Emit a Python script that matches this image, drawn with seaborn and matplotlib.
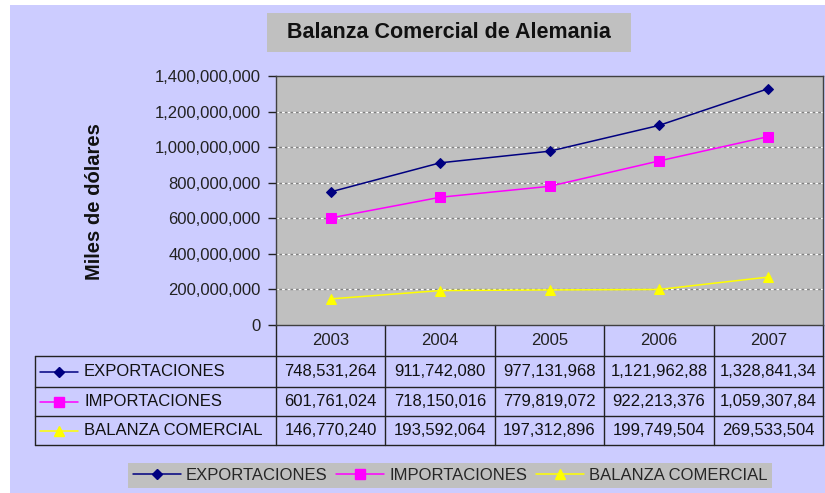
import matplotlib
matplotlib.use("Agg")
import matplotlib.pyplot as plt
import seaborn as sns
import pandas as pd
from matplotlib.lines import Line2D
from matplotlib.patches import Rectangle
from matplotlib.transforms import blended_transform_factory
from matplotlib.ticker import FuncFormatter, MultipleLocator

# ---- data ----
years = ["2003", "2004", "2005", "2006", "2007"]
exportaciones = [748531264, 911742080, 977131968, 1121962880, 1328841340]
importaciones = [601761024, 718150016, 779819072, 922213376, 1059307840]
balanza = [146770240, 193592064, 197312896, 199749504, 269533504]
series_names = ["EXPORTACIONES", "IMPORTACIONES", "BALANZA COMERCIAL"]
series_values = [exportaciones, importaciones, balanza]
colors = {"EXPORTACIONES": "#000080", "IMPORTACIONES": "#FF00FF", "BALANZA COMERCIAL": "#FFFF00"}
markers = {"EXPORTACIONES": "D", "IMPORTACIONES": "s", "BALANZA COMERCIAL": "^"}
msizes = {"EXPORTACIONES": 5, "IMPORTACIONES": 6.5, "BALANZA COMERCIAL": 7}

rows = []
for name, vals in zip(series_names, series_values):
    for i, v in enumerate(vals):
        rows.append({"pos": i, "anio": years[i], "valor": v, "serie": name})
df = pd.DataFrame(rows)

sns.set_theme(style="white")
plt.rcParams["font.family"] = ["Liberation Sans", "DejaVu Sans"]

W, H = 825, 493
fig = plt.figure(figsize=(W / 100, H / 100), dpi=100, facecolor="white")

def fx(x):
    return x / W

def fy(y):
    return 1 - y / H

# lavender background with thin white margin
fig.patches.append(Rectangle((fx(10), 0), 1 - fx(10), fy(5), transform=fig.transFigure,
                             facecolor="#CCCCFF", edgecolor="none", zorder=-10))

ax_left, ax_right, ax_top, ax_bot = 276, 823, 76, 325
ax = fig.add_axes([fx(ax_left), fy(ax_bot), fx(ax_right) - fx(ax_left), fy(ax_top) - fy(ax_bot)])
ax.set_facecolor("#C0C0C0")

sns.lineplot(data=df, x="pos", y="valor", hue="serie", style="serie",
             palette=colors, markers=markers, dashes=False, linewidth=1.1,
             ax=ax, legend=False)
for line, name in zip(ax.lines, series_names):
    line.set_markeredgecolor(colors[name])
    line.set_markerfacecolor(colors[name])
    line.set_markersize(msizes[name])

ax.set_xlim(-0.5, len(years) - 0.5)
ax.set_ylim(0, 1400000000)
ax.yaxis.set_major_locator(MultipleLocator(200000000))
ax.yaxis.set_major_formatter(FuncFormatter(lambda v, p: f"{int(v):,}"))
for t in ax.yaxis.get_major_locator().tick_values(0, 1400000000):
    if 0 < t < 1400000000:
        ax.axhline(t, color="#808080", lw=1, zorder=0.5)
        ax.axhline(t, color="white", lw=1, dashes=(2, 2), zorder=0.6)
ax.set_xticks([])
ax.set_xlabel("")
ax.set_ylabel("")
ax.tick_params(axis="y", which="major", left=True, length=6, width=1, color="#222222",
               labelsize=12, labelcolor="#222222", pad=5, direction="out")
for s in ax.spines.values():
    s.set_color("#404040")
    s.set_linewidth(1)

# title with box
fig.patches.append(Rectangle((fx(267), fy(52)), fx(631) - fx(267), fy(13) - fy(52),
                             transform=fig.transFigure, facecolor="#C0C0C0",
                             edgecolor="none", zorder=-5))
fig.text(fx(449), fy(33), "Balanza Comercial de Alemania", ha="center", va="center",
         fontsize=15.5, fontweight="bold", color="#111111")

# y label
fig.text(fx(95), fy(202), "Miles de dólares", rotation=90, ha="center", va="center",
         fontsize=14.5, fontweight="bold", color="#111111")

# ---- data table ----
tr = blended_transform_factory(ax.transData, fig.transFigure)
row_edges = [325, 356, 387, 416, 445]
tbl_left = 35
lc = "#222222"
for i in range(len(years) + 1):
    ax.plot([i - 0.5, i - 0.5], [fy(325), fy(445)], transform=tr, color=lc, lw=1,
            clip_on=False)
for y in row_edges[1:]:
    fig.add_artist(Line2D([fx(tbl_left), fx(ax_right)], [fy(y), fy(y)],
                          transform=fig.transFigure, color=lc, lw=1))
fig.add_artist(Line2D([fx(tbl_left), fx(tbl_left)], [fy(356), fy(445)],
                      transform=fig.transFigure, color=lc, lw=1))
hy = (row_edges[0] + row_edges[1]) / 2
for i, yr in enumerate(years):
    ax.text(i, fy(hy), yr, transform=tr, ha="center", va="center", fontsize=12,
            color="#222222", clip_on=False)
for r, (name, vals) in enumerate(zip(series_names, series_values)):
    cy = (row_edges[r + 1] + row_edges[r + 2]) / 2
    fig.add_artist(Line2D([fx(40), fx(78)], [fy(cy), fy(cy)], transform=fig.transFigure,
                          color=colors[name], lw=1.1))
    fig.add_artist(Line2D([fx(59)], [fy(cy)], transform=fig.transFigure,
                          marker=markers[name], markersize=msizes[name],
                          color=colors[name], mec=colors[name], lw=0))
    fig.text(fx(84), fy(cy), name, ha="left", va="center", fontsize=12, color="#111111")
    for i, v in enumerate(vals):
        txt = f"{v:,}"[:12]
        ax.text(i, fy(cy), txt, transform=tr, ha="center", va="center", fontsize=12,
                color="#111111", clip_on=False)

# ---- legend ----
handles = [Line2D([], [], color=colors[n], marker=markers[n], markersize=msizes[n],
                  mec=colors[n], lw=1.1) for n in series_names]
leg = fig.legend(handles, series_names, loc="center", bbox_to_anchor=(fx(450), fy(475)),
                 ncol=3, frameon=True, fontsize=12, handlelength=2.9, handletextpad=0.3,
                 columnspacing=0.5, borderpad=0.3, fancybox=False)
leg.get_frame().set_facecolor("#C0C0C0")
leg.get_frame().set_edgecolor("none")
leg.get_frame().set_alpha(1)

fig.savefig("out.png", dpi=100, facecolor=fig.get_facecolor())
